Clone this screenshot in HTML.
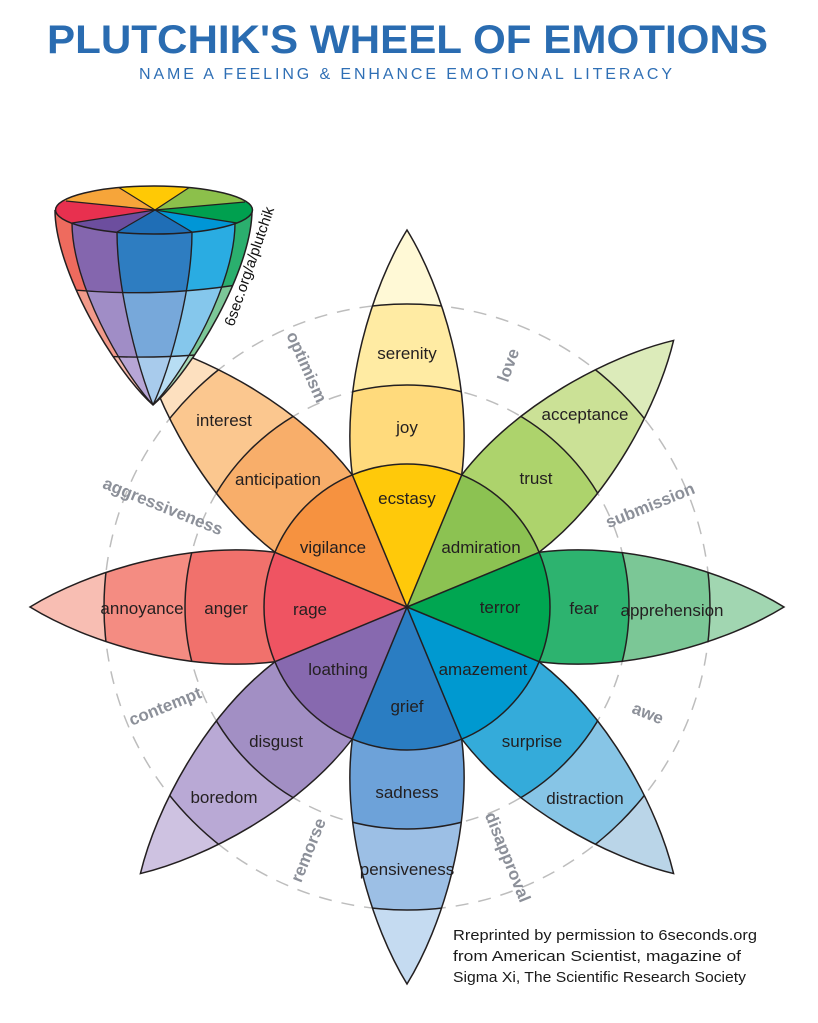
<!DOCTYPE html>
<html><head><meta charset="utf-8"><style>html,body{margin:0;padding:0;background:#fff;width:818px;height:1023px;overflow:hidden}svg{display:block}</style></head>
<body>
<svg width="818" height="1023" viewBox="0 0 818 1023" xmlns="http://www.w3.org/2000/svg" font-family="Liberation Sans, Arial, sans-serif">
<defs>
<clipPath id="pc"><path d="M407,607 L539.1,552.3 C627,541 727,572 784,607 C727,642 627,673 539.1,661.7 Z"/></clipPath>
<clipPath id="cone"><path d="M55,210 C55,270 114,370 153,405 C193,370 252,270 252,210 Z"/></clipPath>
<clipPath id="row2"><path d="M40,286 Q154,302 265,280 L265,420 L40,420 Z"/></clipPath>
<clipPath id="row3"><path d="M40,350 Q154,366 265,346 L265,420 L40,420 Z"/></clipPath>
<clipPath id="topell"><ellipse cx="154" cy="210" rx="98.5" ry="24"/></clipPath>
</defs>
<rect width="818" height="1023" fill="#fff"/>

<text x="47" y="53" font-size="40" font-weight="bold" fill="#2a6cb1" textLength="721" lengthAdjust="spacingAndGlyphs">PLUTCHIK'S WHEEL OF EMOTIONS</text>
<text x="139" y="79" font-size="16" fill="#2f6fb5" textLength="533" lengthAdjust="spacing">NAME A FEELING &amp; ENHANCE EMOTIONAL LITERACY</text>

<g fill="none" stroke="#bdbdbd" stroke-width="1.5" stroke-dasharray="13 10">
<circle cx="407" cy="607" r="222"/><circle cx="407" cy="607" r="303"/>
</g>

<g id="fills">
<g transform="rotate(0 407 607)"><path d="M407,607 L539.1,552.3 C627,541 727,572 784,607 C727,642 627,673 539.1,661.7 Z" fill="#a1d6b1"/><circle cx="407" cy="607" r="303" fill="#7bc796" clip-path="url(#pc)"/><circle cx="407" cy="607" r="222" fill="#2db36f" clip-path="url(#pc)"/><path d="M407,607 L539.1,552.3 A143,143 0 0 1 539.1,661.7 Z" fill="#00a651"/></g>
<g transform="rotate(45 407 607)"><path d="M407,607 L539.1,552.3 C627,541 727,572 784,607 C727,642 627,673 539.1,661.7 Z" fill="#bad5e8"/><circle cx="407" cy="607" r="303" fill="#87c5e6" clip-path="url(#pc)"/><circle cx="407" cy="607" r="222" fill="#34abda" clip-path="url(#pc)"/><path d="M407,607 L539.1,552.3 A143,143 0 0 1 539.1,661.7 Z" fill="#0099d0"/></g>
<g transform="rotate(90 407 607)"><path d="M407,607 L539.1,552.3 C627,541 727,572 784,607 C727,642 627,673 539.1,661.7 Z" fill="#c5dbf1"/><circle cx="407" cy="607" r="303" fill="#9cbfe5" clip-path="url(#pc)"/><circle cx="407" cy="607" r="222" fill="#6da2d9" clip-path="url(#pc)"/><path d="M407,607 L539.1,552.3 A143,143 0 0 1 539.1,661.7 Z" fill="#2a7dc2"/></g>
<g transform="rotate(135 407 607)"><path d="M407,607 L539.1,552.3 C627,541 727,572 784,607 C727,642 627,673 539.1,661.7 Z" fill="#cec2e1"/><circle cx="407" cy="607" r="303" fill="#b9a9d5" clip-path="url(#pc)"/><circle cx="407" cy="607" r="222" fill="#a28fc4" clip-path="url(#pc)"/><path d="M407,607 L539.1,552.3 A143,143 0 0 1 539.1,661.7 Z" fill="#8769af"/></g>
<g transform="rotate(180 407 607)"><path d="M407,607 L539.1,552.3 C627,541 727,572 784,607 C727,642 627,673 539.1,661.7 Z" fill="#f8beb3"/><circle cx="407" cy="607" r="303" fill="#f48c82" clip-path="url(#pc)"/><circle cx="407" cy="607" r="222" fill="#f1716c" clip-path="url(#pc)"/><path d="M407,607 L539.1,552.3 A143,143 0 0 1 539.1,661.7 Z" fill="#ef5462"/></g>
<g transform="rotate(225 407 607)"><path d="M407,607 L539.1,552.3 C627,541 727,572 784,607 C727,642 627,673 539.1,661.7 Z" fill="#fde0bf"/><circle cx="407" cy="607" r="303" fill="#fbc78f" clip-path="url(#pc)"/><circle cx="407" cy="607" r="222" fill="#f8ae6a" clip-path="url(#pc)"/><path d="M407,607 L539.1,552.3 A143,143 0 0 1 539.1,661.7 Z" fill="#f69240"/></g>
<g transform="rotate(270 407 607)"><path d="M407,607 L539.1,552.3 C627,541 727,572 784,607 C727,642 627,673 539.1,661.7 Z" fill="#fff9d6"/><circle cx="407" cy="607" r="303" fill="#ffeba3" clip-path="url(#pc)"/><circle cx="407" cy="607" r="222" fill="#ffda7c" clip-path="url(#pc)"/><path d="M407,607 L539.1,552.3 A143,143 0 0 1 539.1,661.7 Z" fill="#ffc90a"/></g>
<g transform="rotate(315 407 607)"><path d="M407,607 L539.1,552.3 C627,541 727,572 784,607 C727,642 627,673 539.1,661.7 Z" fill="#dcebba"/><circle cx="407" cy="607" r="303" fill="#cbe196" clip-path="url(#pc)"/><circle cx="407" cy="607" r="222" fill="#add36c" clip-path="url(#pc)"/><path d="M407,607 L539.1,552.3 A143,143 0 0 1 539.1,661.7 Z" fill="#8cc252"/></g>
</g>

<g fill="none" stroke="#231f20" stroke-width="1.5">
<g transform="rotate(0 407 607)"><circle cx="407" cy="607" r="303" clip-path="url(#pc)"/><circle cx="407" cy="607" r="222" clip-path="url(#pc)"/><path d="M539.1,552.3 C627,541 727,572 784,607 C727,642 627,673 539.1,661.7"/><line x1="407" y1="607" x2="539.1" y2="552.3"/></g>
<g transform="rotate(45 407 607)"><circle cx="407" cy="607" r="303" clip-path="url(#pc)"/><circle cx="407" cy="607" r="222" clip-path="url(#pc)"/><path d="M539.1,552.3 C627,541 727,572 784,607 C727,642 627,673 539.1,661.7"/><line x1="407" y1="607" x2="539.1" y2="552.3"/></g>
<g transform="rotate(90 407 607)"><circle cx="407" cy="607" r="303" clip-path="url(#pc)"/><circle cx="407" cy="607" r="222" clip-path="url(#pc)"/><path d="M539.1,552.3 C627,541 727,572 784,607 C727,642 627,673 539.1,661.7"/><line x1="407" y1="607" x2="539.1" y2="552.3"/></g>
<g transform="rotate(135 407 607)"><circle cx="407" cy="607" r="303" clip-path="url(#pc)"/><circle cx="407" cy="607" r="222" clip-path="url(#pc)"/><path d="M539.1,552.3 C627,541 727,572 784,607 C727,642 627,673 539.1,661.7"/><line x1="407" y1="607" x2="539.1" y2="552.3"/></g>
<g transform="rotate(180 407 607)"><circle cx="407" cy="607" r="303" clip-path="url(#pc)"/><circle cx="407" cy="607" r="222" clip-path="url(#pc)"/><path d="M539.1,552.3 C627,541 727,572 784,607 C727,642 627,673 539.1,661.7"/><line x1="407" y1="607" x2="539.1" y2="552.3"/></g>
<g transform="rotate(225 407 607)"><circle cx="407" cy="607" r="303" clip-path="url(#pc)"/><circle cx="407" cy="607" r="222" clip-path="url(#pc)"/><path d="M539.1,552.3 C627,541 727,572 784,607 C727,642 627,673 539.1,661.7"/><line x1="407" y1="607" x2="539.1" y2="552.3"/></g>
<g transform="rotate(270 407 607)"><circle cx="407" cy="607" r="303" clip-path="url(#pc)"/><circle cx="407" cy="607" r="222" clip-path="url(#pc)"/><path d="M539.1,552.3 C627,541 727,572 784,607 C727,642 627,673 539.1,661.7"/><line x1="407" y1="607" x2="539.1" y2="552.3"/></g>
<g transform="rotate(315 407 607)"><circle cx="407" cy="607" r="303" clip-path="url(#pc)"/><circle cx="407" cy="607" r="222" clip-path="url(#pc)"/><path d="M539.1,552.3 C627,541 727,572 784,607 C727,642 627,673 539.1,661.7"/><line x1="407" y1="607" x2="539.1" y2="552.3"/></g>
<circle cx="407" cy="607" r="143"/>
</g>

<g font-size="17" fill="#231f20" text-anchor="middle">
<text x="407" y="504">ecstasy</text>
<text x="481" y="553">admiration</text>
<text x="500" y="613">terror</text>
<text x="483" y="675">amazement</text>
<text x="407" y="712">grief</text>
<text x="338" y="675">loathing</text>
<text x="310" y="615">rage</text>
<text x="333" y="553">vigilance</text>
<text x="407" y="433">joy</text>
<text x="407" y="359">serenity</text>
<text x="536" y="484">trust</text>
<text x="585" y="420">acceptance</text>
<text x="584" y="614">fear</text>
<text x="672" y="616">apprehension</text>
<text x="532" y="747">surprise</text>
<text x="585" y="804">distraction</text>
<text x="407" y="798">sadness</text>
<text x="407" y="875">pensiveness</text>
<text x="276" y="747">disgust</text>
<text x="224" y="803">boredom</text>
<text x="226" y="614">anger</text>
<text x="142" y="614">annoyance</text>
<text x="278" y="485">anticipation</text>
<text x="224" y="426">interest</text>
</g>

<g font-size="17" font-weight="bold" fill="#8c9099" text-anchor="middle">
<text transform="translate(307,367) rotate(66)" y="6">optimism</text>
<text transform="translate(508,365) rotate(-70)" y="6">love</text>
<text transform="translate(650,505) rotate(-22)" y="6">submission</text>
<text transform="translate(163,506) rotate(22)" y="6">aggressiveness</text>
<text transform="translate(165,706) rotate(-22)" y="6">contempt</text>
<text transform="translate(648,713) rotate(22)" y="6">awe</text>
<text transform="translate(308,850) rotate(-68)" y="6">remorse</text>
<text transform="translate(508,857) rotate(68)" y="6">disapproval</text>
</g>

<g>
<g clip-path="url(#cone)">
<path d="M55,210 C55,270 114,370 153,405 C121,370 72,283 72,223 Z" fill="#ee6b5e"/>
<path d="M72,223 C72,283 121,370 153,405 C139,370 117,292 117,232 Z" fill="#8466ae"/>
<path d="M117,232 C117,292 139,370 153,405 C169,370 192,292 192,232 Z" fill="#2e7dc1"/>
<path d="M192,232 C192,292 169,370 153,405 C186,370 235,283 235,223 Z" fill="#2aace2"/>
<path d="M235,223 C235,283 186,370 153,405 C193,370 252,270 252,210 Z" fill="#2baf6e"/>
<g clip-path="url(#row2)">
<path d="M55,210 C55,270 114,370 153,405 C121,370 72,283 72,223 Z" fill="#f29a8a"/>
<path d="M72,223 C72,283 121,370 153,405 C139,370 117,292 117,232 Z" fill="#a08dc6"/>
<path d="M117,232 C117,292 139,370 153,405 C169,370 192,292 192,232 Z" fill="#77a8da"/>
<path d="M192,232 C192,292 169,370 153,405 C186,370 235,283 235,223 Z" fill="#85c7ec"/>
<path d="M235,223 C235,283 186,370 153,405 C193,370 252,270 252,210 Z" fill="#7cc798"/>
</g>
<g clip-path="url(#row3)">
<path d="M55,210 C55,270 114,370 153,405 C121,370 72,283 72,223 Z" fill="#f6b9ab"/>
<path d="M72,223 C72,283 121,370 153,405 C139,370 117,292 117,232 Z" fill="#b7a6d6"/>
<path d="M117,232 C117,292 139,370 153,405 C169,370 192,292 192,232 Z" fill="#a8cbec"/>
<path d="M192,232 C192,292 169,370 153,405 C186,370 235,283 235,223 Z" fill="#b7ddf3"/>
<path d="M235,223 C235,283 186,370 153,405 C193,370 252,270 252,210 Z" fill="#a9dab8"/>
</g>
<g fill="none" stroke="#231f20" stroke-width="1.4">
<path d="M72,223 C72,283 121,370 153,405"/>
<path d="M117,232 C117,292 139,370 153,405"/>
<path d="M192,232 C192,292 169,370 153,405"/>
<path d="M235,223 C235,283 186,370 153,405"/>
<path d="M40,286 Q154,302 265,280"/>
<path d="M40,350 Q154,366 265,346"/>
</g>
</g>
<path d="M55,210 C55,270 114,370 153,405 C193,370 252,270 252,210" fill="none" stroke="#231f20" stroke-width="1.5"/>
<g clip-path="url(#topell)">
<path d="M155,210 L-177,262 L-201,174 Z" fill="#e8304f"/>
<path d="M155,210 L-201,174 L7,118 Z" fill="#f6a53a"/>
<path d="M155,210 L7,118 L295,118 Z" fill="#ffc905"/>
<path d="M155,210 L295,118 L515,178 Z" fill="#8cc04b"/>
<path d="M155,210 L515,178 L483,262 Z" fill="#00a04f"/>
<path d="M155,210 L483,262 L303,298 Z" fill="#0096d6"/>
<path d="M155,210 L303,298 L3,298 Z" fill="#1f6eb6"/>
<path d="M155,210 L3,298 L-177,262 Z" fill="#6c4e9e"/>
<g stroke="#231f20" stroke-width="1.2">
<line x1="155" y1="210" x2="66" y2="201"/><line x1="155" y1="210" x2="118" y2="187"/>
<line x1="155" y1="210" x2="190" y2="187"/><line x1="155" y1="210" x2="245" y2="202"/>
<line x1="155" y1="210" x2="237" y2="223"/><line x1="155" y1="210" x2="192" y2="232"/>
<line x1="155" y1="210" x2="117" y2="232"/><line x1="155" y1="210" x2="72" y2="223"/>
</g>
</g>
<ellipse cx="154" cy="210" rx="98.5" ry="24" fill="none" stroke="#231f20" stroke-width="1.5"/>
</g>
<text transform="translate(254,268) rotate(-71)" font-size="15" fill="#111" text-anchor="middle">6sec.org/a/plutchik</text>

<g font-size="15" fill="#1a1a1a">
<text x="453" y="940" textLength="304" lengthAdjust="spacingAndGlyphs">Rreprinted by permission to 6seconds.org</text>
<text x="453" y="961" textLength="288" lengthAdjust="spacingAndGlyphs">from American Scientist, magazine of</text>
<text x="453" y="982" textLength="293" lengthAdjust="spacingAndGlyphs">Sigma Xi, The Scientific Research Society</text>
</g>
</svg>
</body></html>
